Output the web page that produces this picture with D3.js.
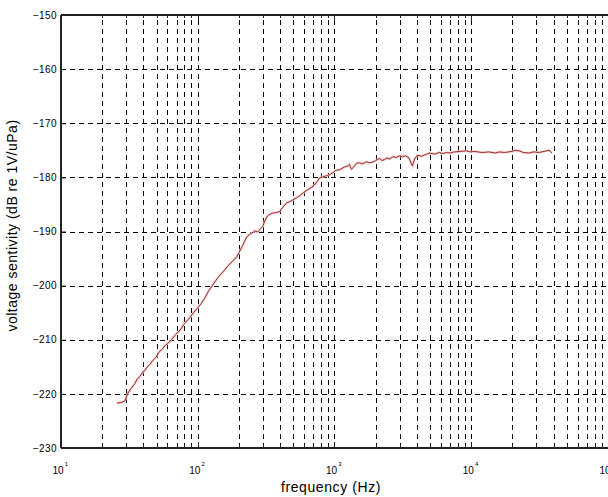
<!DOCTYPE html>
<html>
<head>
<meta charset="utf-8">
<script src="https://cdn.jsdelivr.net/npm/d3@7"></script>
<style>
  html, body { margin: 0; padding: 0; background: #fff; }
  svg { display: block; }
  text { font-family: "Liberation Sans", Arial, sans-serif; fill: #000; }
</style>
</head>
<body>
<svg id="chart" width="608" height="497"></svg>
<script>
// ---- data ----
const frequencyHz = [25.6, 27.5, 29.3, 30.8, 32.5, 34.7, 36, 37.7, 39.5, 41.0, 43, 44.6, 47, 49.4, 52, 54.6, 58, 61, 64.6, 69, 73.9, 80, 87.5, 93, 100,
  106, 112, 120, 128.6, 136, 145, 155, 165.5, 178, 192.6, 203, 213, 220, 228, 238, 248, 261, 274, 285, 298, 310, 324, 338, 353, 375, 397, 420, 447, 470, 494,
  525, 555, 595, 635, 675, 714, 745, 778, 820, 875, 920, 967, 1020, 1087, 1180, 1250, 1285, 1330, 1399, 1450, 1521, 1600, 1713, 1800, 1894, 2000,
  2130, 2230, 2317, 2420, 2519, 2680, 2836, 3000, 3136, 3300, 3500, 3710, 3850, 4036, 4300, 4539, 4935, 5400, 5839, 6200, 6570, 7000, 7515, 8300,
  9200, 9800, 10520, 12000, 13530, 15000, 16000, 17500, 19900, 21000, 22390, 24000, 26490, 28500, 31330, 34000, 37070, 39000];
const sensitivityDb = [-221.7, -221.6, -221.3, -219.9, -219.0, -218.1, -217.3, -216.8, -216.0, -215.7, -214.9, -214.6, -213.8, -213.3, -212.3, -211.8, -211.0, -210.6, -209.9, -209.0, -208.3, -207.0, -205.9, -205.0, -204.1,
  -203.3, -202.4, -201.0, -199.9, -199.0, -198.1, -197.3, -196.4, -195.6, -194.7, -193.6, -192.6, -191.8, -191.0, -190.6, -190.3, -189.9, -190.1, -189.6, -189.1, -188.0, -187.1, -186.8, -186.6, -186.5, -186.3, -185.5, -184.7, -184.5, -184.2,
  -183.8, -183.4, -182.8, -182.3, -181.9, -181.4, -180.8, -180.1, -179.9, -179.7, -179.5, -179.2, -178.7, -178.6, -178.1, -177.9, -177.6, -178.5, -177.9, -177.4, -177.3, -177.5, -177.1, -177.3, -177.2, -176.9,
  -176.5, -176.9, -176.7, -176.4, -176.6, -176.2, -176.3, -176.0, -176.2, -176.0, -176.4, -177.9, -176.6, -175.9, -176.1, -175.9, -175.5, -175.7, -175.4, -175.6, -175.4, -175.5, -175.3, -175.2,
  -175.1, -175.3, -175.2, -175.4, -175.3, -175.5, -175.3, -175.4, -175.2, -175.0, -175.1, -175.4, -175.5, -175.3, -175.4, -175.2, -175.0, -175.5];

const xMajorTicks = [10, 100, 1000, 10000, 100000];
const xTickExponents = ["1", "2", "3", "4", "5"];
const yTicks = [-230, -220, -210, -200, -190, -180, -170, -160, -150];
const minorMultipliers = [2, 3, 4, 5, 6, 7, 8, 9];
const xTitle = "frequency (Hz)";
const yTitle = "voltage sentivity (dB re 1V/uPa)";

// ---- layout ----
const M = { left: 61, right: 608, top: 15, bottom: 448 };

const svg = d3.select("#chart");
const x = d3.scaleLog().domain([10, 100000]).range([M.left, M.right]);
const y = d3.scaleLinear().domain([-230, -150]).range([M.bottom, M.top]);

// grid values: minor and major positions inside the domain
const gridX = [];
xMajorTicks.slice(0, -1).forEach(d => {
  gridX.push(d);
  minorMultipliers.forEach(m => gridX.push(d * m));
});
const gridXInner = gridX.filter(v => v > 10);

const grid = svg.append("g").attr("shape-rendering", "crispEdges");
grid.selectAll("line.vx").data(gridXInner).join("line")
  .attr("x1", d => Math.round(x(d)) + 0.5).attr("x2", d => Math.round(x(d)) + 0.5)
  .attr("y1", M.bottom).attr("y2", M.top)
  .attr("stroke", "#000").attr("stroke-width", 1).attr("stroke-dasharray", "5,4");
grid.selectAll("line.hy").data(yTicks.filter(v => v > -230 && v < -150)).join("line")
  .attr("y1", d => Math.round(y(d)) + 0.5).attr("y2", d => Math.round(y(d)) + 0.5)
  .attr("x1", M.left).attr("x2", M.right)
  .attr("stroke", "#000").attr("stroke-width", 1).attr("stroke-dasharray", "5,4");

// tick marks (inside)
const ticks = svg.append("g").attr("shape-rendering", "crispEdges").attr("stroke", "#222");
ticks.selectAll("line.bt").data(gridX).join("line")
  .attr("x1", d => Math.round(x(d)) + 0.5).attr("x2", d => Math.round(x(d)) + 0.5)
  .attr("y1", M.bottom).attr("y2", d => M.bottom - (xMajorTicks.includes(d) ? 6 : 3));
ticks.selectAll("line.tt").data(gridX).join("line")
  .attr("x1", d => Math.round(x(d)) + 0.5).attr("x2", d => Math.round(x(d)) + 0.5)
  .attr("y1", M.top).attr("y2", d => M.top + (xMajorTicks.includes(d) ? 6 : 3));

// curve
const line = d3.line().x((d, i) => x(frequencyHz[i])).y(d => y(d));
svg.append("path").datum(sensitivityDb)
  .attr("d", line)
  .attr("fill", "none").attr("stroke", "#f2c9c9").attr("stroke-width", 2.6).attr("opacity", 0.8);
svg.append("path").datum(sensitivityDb)
  .attr("d", line)
  .attr("fill", "none").attr("stroke", "#9c2a2a").attr("stroke-width", 1);

// y axis
const yAxis = d3.axisLeft(y).tickValues(yTicks).tickSize(-5).tickPadding(4).tickFormat(d3.format("d"));
const gy = svg.append("g").attr("transform", `translate(${M.left},0)`).call(yAxis);
gy.select(".domain").remove();
gy.selectAll(".tick line").attr("stroke", "#222");
gy.selectAll("text").style("font-size", "10px").style("font-family", "'Liberation Sans', Arial, sans-serif")
  .attr("letter-spacing", "0.4px").attr("fill", "#111");

// x axis with superscript labels
const xAxis = d3.axisBottom(x).tickValues(xMajorTicks).tickSize(0).tickPadding(10).tickFormat(() => "");
const gx = svg.append("g").attr("transform", `translate(0,${M.bottom})`).call(xAxis);
gx.select(".domain").remove();
gx.selectAll(".tick text").each(function(d, i) {
  const t = d3.select(this).attr("text-anchor", "start").attr("x", -9).attr("y", 19)
    .style("font-size", "10px").style("font-family", "'Liberation Sans', Arial, sans-serif").attr("fill", "#111");
  t.text(null);
  t.append("tspan").text("10");
  t.append("tspan").attr("dy", "-8").attr("dx", "1").style("font-size", "6px").text(xTickExponents[i]);
});

// axes box lines
const box = svg.append("g").attr("shape-rendering", "crispEdges").attr("stroke", "#222").attr("stroke-width", 1.5);
box.append("line").attr("x1", M.left).attr("x2", M.left).attr("y1", M.top).attr("y2", M.bottom);
box.append("line").attr("x1", M.left).attr("x2", M.right).attr("y1", M.bottom).attr("y2", M.bottom);
box.append("line").attr("x1", M.left).attr("x2", M.right).attr("y1", M.top).attr("y2", M.top);

// titles
svg.append("text").attr("x", 331).attr("y", 492).attr("text-anchor", "middle")
  .style("font-size", "14px").attr("letter-spacing", "0.6px").attr("fill", "#222").text(xTitle);
svg.append("text").attr("transform", `translate(17,${(M.top + M.bottom) / 2 - 6}) rotate(-90)`)
  .attr("text-anchor", "middle").style("font-size", "14px").attr("letter-spacing", "0.5px")
  .attr("fill", "#222").text(yTitle);
</script>
</body>
</html>
